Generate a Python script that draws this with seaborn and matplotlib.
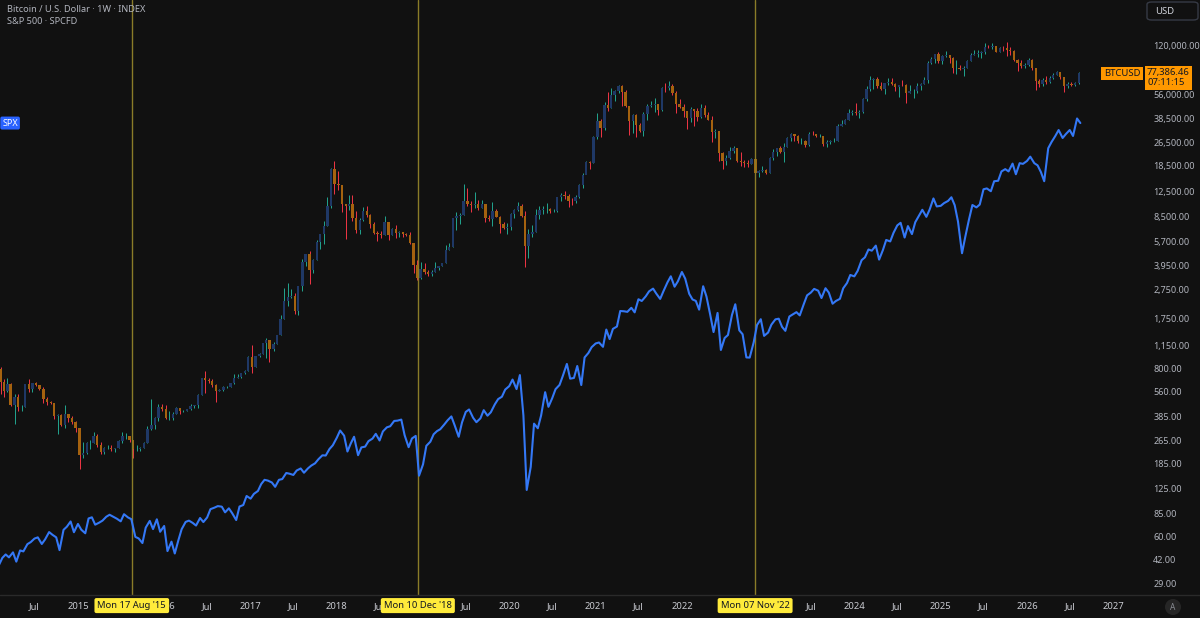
import numpy as np
import pandas as pd
import seaborn as sns
import matplotlib.pyplot as plt
import matplotlib.ticker as mticker
from matplotlib.transforms import blended_transform_factory
from matplotlib.patches import FancyBboxPatch, Ellipse
from matplotlib.lines import Line2D

# BTCUSD, half-month candles from Feb 2014 (open = previous close)
btc_first_open = 800
btc_close = [
    650, 565, 630, 455, 520, 445, 445, 630, 590, 640, 620, 585, 500, 480, 475, 385, 395, 335, 400, 375, 350, 320,
    210, 218, 255, 255, 285, 245, 220, 235, 237, 230, 235, 263, 285, 285, 265, 230, 230, 236, 255, 315, 335, 375, 445, 430,
    375, 375, 400, 435, 415, 416, 428, 450, 455, 530, 690, 670, 665, 625, 570, 575, 607, 608, 640, 700, 710, 745, 780, 965,
    820, 970, 1010, 1190, 1250, 1080, 1180, 1350, 1730, 2300, 2450, 2480, 1960, 2870, 4150, 4700, 3700, 4340, 5700, 6450, 7300, 9900, 17700, 13900,
    13700, 10200, 10000, 10300, 8200, 6900, 8000, 9250, 8700, 7500, 6500, 6400, 6350, 7730, 6300, 7000, 6500, 6620, 6450, 6320, 5650, 4000, 3250, 3750,
    3600, 3450, 3600, 3820, 3900, 4100, 5050, 5300, 8200, 8550, 8700, 10800, 10200, 10100, 10300, 9600, 10300, 8300, 8150, 9150, 8450, 7550, 7100, 7200,
    8800, 9350, 9900, 8550, 5350, 6420, 6650, 8650, 9350, 9450, 9450, 9150, 9200, 11350, 11850, 11650, 10800, 10780, 11500, 13800, 15950, 19700, 19300, 29000,
    36800, 33100, 47200, 45100, 55800, 58800, 63200, 57700, 46500, 37300, 40500, 35000, 31800, 41500, 47000, 47100, 48100, 43800, 61500, 61300, 63900, 57000, 48500, 46300,
    43100, 38500, 44500, 43200, 39700, 45500, 40500, 37700, 31300, 31800, 22500, 19900, 20800, 23300, 24300, 20000, 19700, 19400, 19100, 20500, 16600, 17200, 17400, 16550,
    20900, 23100, 24300, 23100, 24900, 28500, 30300, 29200, 27200, 27200, 25600, 30500, 30300, 29200, 29200, 25900, 26600, 27000, 27000, 34500, 35600, 37700, 42000, 42300,
    41700, 42600, 51800, 61200, 69500, 71300, 63400, 60600, 66200, 67500, 66000, 62700, 64800, 64600, 57500, 58900, 59200, 63300, 66000, 70200, 91000, 96400, 104300, 93400,
    100500, 102400, 97500, 84300, 84300, 82500, 83600, 94200, 103500, 104600, 105500, 107100, 117000, 115800, 117300, 108200, 115300, 114000, 111000, 109500, 95500, 90300, 86400, 87500,
    95000, 84000, 69000, 66000, 70000, 68000, 72000, 76000, 79000, 73000, 64000, 66000, 65000, 66500, 77386.46,
]
btc_high = [
    830, 680, 700, 640, 540, 540, 460, 630, 680, 640, 650, 625, 600, 520, 490, 475, 400, 400, 460, 400, 385, 355,
    320, 260, 260, 265, 300, 290, 260, 240, 245, 245, 235, 265, 300, 295, 285, 265, 245, 240, 258, 330, 500, 380, 465, 465,
    460, 420, 410, 445, 440, 425, 430, 465, 460, 540, 700, 780, 700, 680, 630, 590, 615, 612, 645, 740, 740, 755, 790, 975,
    1150, 975, 1020, 1200, 1290, 1260, 1210, 1360, 1850, 2790, 3000, 2770, 2600, 2900, 4400, 4750, 4980, 4400, 5850, 6470, 7900, 11400, 17900, 19800,
    17200, 13800, 10300, 11800, 11700, 9200, 8200, 9750, 9950, 8800, 7750, 6800, 6800, 8500, 7800, 7100, 7400, 6800, 6700, 6560, 6600, 5650, 4300, 4200,
    4100, 3700, 3700, 4200, 3950, 4120, 5450, 5600, 8300, 9000, 8900, 13900, 13100, 10700, 12300, 10950, 10900, 10300, 8700, 10500, 9500, 8500, 7800, 7700,
    8900, 9550, 10500, 10200, 9200, 6950, 7450, 9450, 9950, 9950, 10400, 9600, 9450, 11450, 12100, 12450, 12000, 11200, 11700, 14000, 16500, 19900, 19950, 29300,
    42000, 38000, 49700, 58300, 61800, 60000, 64800, 64500, 59500, 46700, 41300, 41000, 36000, 42300, 48100, 50500, 52900, 48500, 62900, 67000, 69000, 66000, 59000, 52000,
    47900, 43500, 45800, 44500, 45400, 48200, 47400, 42900, 39900, 32600, 31800, 23000, 22000, 24600, 25200, 24400, 22800, 20400, 20400, 21000, 21400, 17300, 18400, 17500,
    21200, 23900, 24400, 25200, 26500, 29100, 31000, 30500, 29800, 28400, 27400, 31400, 31800, 30400, 30200, 29300, 27400, 27500, 28600, 35200, 37900, 38400, 44700, 44000,
    49000, 43600, 52800, 64000, 73800, 71700, 72700, 67200, 66400, 71900, 71900, 67000, 65000, 70000, 65600, 65000, 60600, 66500, 66500, 73600, 93400, 99500, 105200, 108300,
    102700, 109600, 102500, 99500, 95000, 88700, 86400, 95700, 105700, 111900, 110500, 108900, 123200, 120200, 124400, 117600, 116800, 117900, 126200, 116400, 111200, 96600, 94600, 90600,
    97500, 96000, 84000, 71000, 72000, 74000, 74000, 78000, 80500, 79000, 73500, 68000, 67500, 68000, 79000,
]
btc_low = [
    540, 520, 560, 450, 340, 420, 420, 445, 560, 560, 610, 575, 470, 460, 465, 370, 290, 330, 320, 350, 340, 300,
    170, 200, 215, 230, 255, 240, 215, 215, 230, 225, 220, 235, 255, 270, 260, 200, 225, 225, 235, 255, 310, 315, 355, 420,
    370, 365, 365, 400, 400, 410, 415, 425, 440, 435, 530, 550, 640, 600, 480, 565, 570, 595, 605, 630, 690, 700, 740, 780,
    750, 820, 960, 1000, 950, 890, 1060, 1180, 1350, 1720, 2130, 2400, 1870, 1830, 2650, 3950, 2970, 3500, 4300, 5100, 5500, 7300, 9700, 11900,
    12800, 9000, 6000, 9400, 7900, 6500, 6450, 7900, 8400, 7080, 6400, 5750, 6100, 6300, 5880, 6300, 6100, 6180, 6200, 6250, 5500, 3500, 3150, 3200,
    3450, 3380, 3350, 3600, 3700, 3900, 4100, 5000, 5300, 6900, 7500, 8700, 9900, 9100, 9600, 9350, 9600, 7750, 7850, 7300, 8400, 6500, 7000, 6450,
    6900, 8300, 9150, 8400, 3850, 4450, 6150, 6600, 8100, 8800, 8900, 8950, 9000, 9050, 10700, 11100, 9850, 10100, 10400, 11200, 13200, 16300, 17600, 19200,
    28000, 29000, 32300, 43000, 45000, 50400, 57000, 47000, 45700, 30000, 31000, 28800, 31100, 29300, 37600, 46000, 42800, 40700, 43300, 58000, 60000, 55600, 42000, 45500,
    39700, 32900, 36300, 34300, 37200, 38900, 39200, 37600, 26700, 28600, 20100, 17600, 18800, 20700, 22700, 19600, 18500, 18200, 18200, 18900, 15600, 15500, 16700, 16300,
    16500, 20400, 21400, 22700, 19600, 24600, 27000, 27000, 26200, 26100, 24800, 25000, 29900, 28900, 28700, 25200, 24900, 26000, 26600, 27000, 34100, 35500, 37600, 40500,
    40700, 38500, 41900, 50600, 59000, 60800, 62000, 59600, 56500, 64900, 65100, 58500, 53500, 63500, 49000, 57200, 52600, 57500, 59800, 65500, 66800, 90100, 90500, 91500,
    89200, 99500, 91200, 78200, 76600, 81600, 74500, 83500, 93400, 103100, 100400, 98200, 105100, 114800, 112000, 107300, 107300, 108700, 102000, 103500, 94000, 80500, 84400, 84500,
    87000, 81000, 60000, 63000, 64000, 66000, 66500, 71000, 75000, 71000, 58000, 62000, 63500, 64000, 66000,
]

# S&P 500 closes, 1st and 15th of each month from Feb 2014
spx_close = [
    1796, 1838, 1859, 1841, 1872, 1815, 1884, 1878, 1924, 1937, 1960, 1968, 1925, 1955, 2003, 1985, 1968, 1886, 2018, 2039, 2075, 2002,
    2058, 2019, 1995, 2096, 2104, 2053, 2067, 2081, 2108, 2122, 2107, 2094, 2076, 2126, 2103, 2091, 1971, 1961, 1931, 2033, 2079, 2023, 2090, 2005,
    2044, 1880, 1940, 1865, 1948, 2022, 2072, 2081, 2065, 2047, 2099, 2071, 2103, 2162, 2173, 2184, 2180, 2139, 2168, 2133, 2085, 2181, 2192, 2259,
    2239, 2275, 2297, 2351, 2384, 2378, 2363, 2329, 2384, 2390, 2439, 2433, 2423, 2459, 2476, 2441, 2477, 2500, 2519, 2553, 2587, 2585, 2642, 2675,
    2743, 2810, 2762, 2620, 2691, 2752, 2588, 2656, 2663, 2712, 2735, 2779, 2718, 2801, 2840, 2850, 2901, 2904, 2914, 2767, 2658, 2736, 2760, 2417,
    2510, 2670, 2707, 2775, 2804, 2822, 2867, 2907, 2945, 2859, 2752, 2886, 2990, 3014, 2932, 2889, 2926, 3007, 2952, 2986, 3066, 3120, 3145, 3221,
    3258, 3330, 3226, 3380, 2954, 2305, 2489, 2875, 2831, 2955, 3193, 3041, 3130, 3225, 3271, 3372, 3508, 3340, 3348, 3484, 3270, 3585, 3638, 3710,
    3756, 3768, 3714, 3934, 3811, 3943, 3974, 4185, 4181, 4173, 4230, 4166, 4352, 4327, 4395, 4468, 4509, 4433, 4357, 4471, 4605, 4698, 4538, 4620,
    4766, 4662, 4432, 4349, 4328, 4204, 4545, 4392, 4132, 3901, 4158, 3675, 3825, 3863, 4130, 4280, 3924, 3873, 3585, 3583, 3770, 3993, 4072, 3852,
    3895, 3999, 4070, 4079, 3970, 3917, 4109, 4137, 4169, 4124, 4282, 4409, 4450, 4505, 4478, 4370, 4515, 4450, 4288, 4327, 4358, 4514, 4594, 4719,
    4697, 4783, 4958, 5005, 5137, 5117, 5204, 4967, 5127, 5303, 5277, 5431, 5567, 5615, 5346, 5554, 5408, 5626, 5751, 5864, 5728, 5870, 6090, 5930,
    5942, 5996, 6040, 6114, 5955, 5638, 5074, 5363, 5687, 5958, 5911, 5967, 6279, 6297, 6238, 6449, 6460, 6664, 6715, 6664, 6840, 6602, 6850, 6834,
    6900, 7000, 6850, 6800, 6650, 6450, 7200, 7350, 7500, 7650, 7450, 7550, 7650, 7500, 7950, 7830,
]

price_ticks = [120000, 56000, 38500, 26500, 18500, 12500, 8500, 5700, 3950, 2750,
               1750, 1150, 800, 560, 385, 265, 185, 125, 85, 60, 42, 29]
marked_days = ['2015-08-17', '2018-12-10', '2022-11-07']
marked_labels = ["Mon 17 Aug '15", "Mon 10 Dec '18", "Mon 07 Nov '22"]
# time labels that sit fully under the date tags in the reference
covered = ['2015-07-01', '2019-01-01', '2022-07-01', '2023-01-01']

bg = '#111111'
txt = '#b2b5be'
sns.set_style('dark', {'axes.facecolor': bg, 'figure.facecolor': bg})
plt.rcParams['font.family'] = ['Noto Sans', 'DejaVu Sans']

btc = pd.DataFrame({'close': btc_close, 'high': btc_high, 'low': btc_low})
btc['date'] = pd.date_range('2014-02-01', periods=len(btc), freq='SMS')
btc['open'] = btc['close'].shift(1).fillna(btc_first_open)
btc['mid'] = btc['date'] + pd.Timedelta(days=7)
up = (btc['close'] >= btc['open']).values

spx = pd.DataFrame({'date': pd.date_range('2014-02-01', periods=len(spx_close), freq='SMS'),
                    'close': spx_close})

fig = plt.figure(figsize=(12, 6.18), dpi=100)
fig.patch.set_facecolor(bg)
ax = fig.add_axes([0, 23 / 618, 1142 / 1200, 595 / 618])
ax.set_facecolor(bg)
ax.set_yscale('log')
ax.set_ylim(24.2, 240800)
ax.set_xlim(pd.Timestamp('2014-02-05'), pd.Timestamp('2027-05-03'))

# candles: wicks under the bodies
lo = np.minimum(btc['open'], btc['close'])
hi = np.maximum(btc['open'], btc['close'])
ax.vlines(btc['mid'], btc['low'], btc['high'],
          colors=np.where(up, '#22a58f', '#f23645'), linewidth=0.7, zorder=2)
ax.bar(btc['mid'], hi - lo, bottom=lo, width=10,
       color=np.where(up, '#1f3866', '#a5620f'), linewidth=0, zorder=3)

for d in marked_days:
    ax.axvline(pd.Timestamp(d), color='#8a7c28', lw=1, zorder=4)

# S&P 500 on its own hidden log scale
ax2 = ax.twinx()
ax2.set_yscale('log')
ax2.set_ylim(1624, 11800)
sns.lineplot(data=spx, x='date', y='close', ax=ax2, color='#3478f6', linewidth=1.5)
ax2.axis('off')

# right price scale
ax.yaxis.tick_right()
ax.set_yticks(price_ticks)
ax.set_yticklabels([f'{v:,.2f}' for v in price_ticks])
ax.yaxis.set_minor_locator(mticker.NullLocator())
ax.tick_params(axis='y', length=0, pad=8, labelsize=6.5, labelcolor=txt)

# time scale
xt, xl = [], []
for y in range(2014, 2028):
    for m, lab in ((1, str(y)), (7, 'Jul')):
        d = f'{y}-{m:02d}-01'
        if (y == 2014 and m == 1) or (y == 2027 and m == 7) or d in covered:
            continue
        xt.append(pd.Timestamp(d))
        xl.append(lab)
ax.set_xticks(xt)
ax.set_xticklabels(xl)
ax.tick_params(axis='x', length=0, pad=5, labelsize=6.8, labelcolor='#c9cbd1')
ax.set_xlabel('')
ax.set_ylabel('')
ax.grid(False)
for s in ax.spines.values():
    s.set_visible(False)
fig.add_artist(Line2D([0, 1], [23 / 618, 23 / 618], transform=fig.transFigure,
                      color='#2a2a2a', lw=1))

xd = blended_transform_factory(ax.transData, ax.transAxes)
for d, lab in zip(marked_days, marked_labels):
    ax.text(pd.Timestamp(d), -0.0178, lab, transform=xd, ha='center', va='center',
            fontsize=6.8, color='#131722', zorder=10, clip_on=False,
            bbox=dict(boxstyle='round,pad=0.32,rounding_size=0.2', fc='#ffeb3b', ec='none'))

# last value tags
yb = blended_transform_factory(ax.transAxes, ax.transData)
last = btc_close[-1]
ax.text(0.9985, last, 'BTCUSD', transform=yb, ha='right', va='center', fontsize=6.8,
        color='#131722', zorder=10, clip_on=False,
        bbox=dict(boxstyle='square,pad=0.25', fc='#ff9800', ec='none'))
ax.annotate(f'{last:,.2f}\n07:11:15', xy=(1.0, last), xycoords=yb,
            xytext=(5, 5), textcoords='offset pixels', ha='left', va='top',
            fontsize=6.8, color='#131722', linespacing=1.15, zorder=10,
            annotation_clip=False,
            bbox=dict(boxstyle='square,pad=0.25', fc='#ff9800', ec='none'))
ys = blended_transform_factory(ax.transAxes, ax2.transData)
ax2.text(0.002, spx_close[-1], 'SPX', transform=ys, ha='left', va='center', fontsize=6.5,
         color='white', zorder=10, clip_on=False,
         bbox=dict(boxstyle='round,pad=0.22,rounding_size=0.2', fc='#2962ff', ec='none'))

# header
fig.text(7 / 1200, 1 - 9 / 618, 'Bitcoin / U.S. Dollar · 1W · INDEX',
         fontsize=6.6, color=txt, va='center')
fig.text(7 / 1200, 1 - 22 / 618, 'S&P 500 · SPCFD', fontsize=6.6, color=txt, va='center')

fig.add_artist(FancyBboxPatch((1147 / 1200, 1 - 20 / 618), 51 / 1200, 18 / 618,
                              boxstyle='round,pad=0,rounding_size=0.004',
                              transform=fig.transFigure, fc=bg, ec='#363a45', lw=1))
fig.text(1155 / 1200, 1 - 11 / 618, 'USD', fontsize=6.8, color='#d1d4dc', va='center')
fig.add_artist(Ellipse((1173 / 1200, 11 / 618), 16 / 1200, 16 / 618,
                       transform=fig.transFigure, fc='#262626', ec='none'))
fig.text(1173 / 1200, 11 / 618, 'A', fontsize=6, color='#8a8d94', ha='center', va='center')

fig.savefig('out.png', dpi=100, facecolor=bg)
